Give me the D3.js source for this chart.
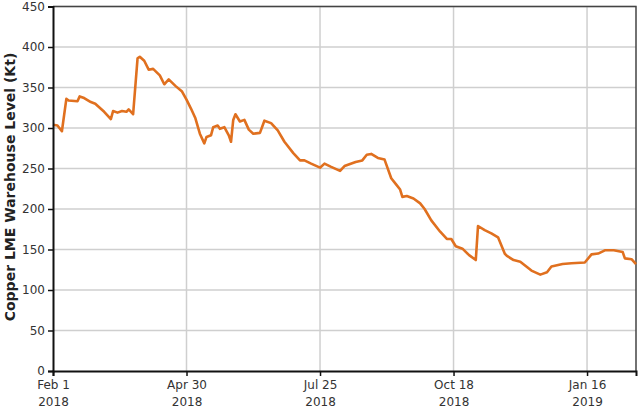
<!DOCTYPE html>
<html><head><meta charset="utf-8">
<script src="https://cdn.jsdelivr.net/npm/d3@7"></script>
<style>
html,body{margin:0;padding:0;background:#fff;}
svg{display:block;font-family:"DejaVu Sans",Verdana,sans-serif;}
</style></head>
<body><svg id="chart" width="640" height="408"></svg>
<script>
// trading-day index and warehouse level (Kt)
const dayIndex = [0,2,4,6,7,11,12,14,17,19,23,26,27,29,31,33,34,36,38,39,41,43,45,48,50,52,55,58,60,62,64,66,68,69,71,72,74,75,77,79,80,81,82,84,86,88,90,93,95,98,101,104,108,111,113,116,120,122,125,129,131,136,139,141,143,146,149,152,154,156,157,159,162,165,167,170,174,177,179,181,184,187,190,191,194,197,200,203,204,207,210,215,219,222,224,229,233,239,242,245,248,252,256,257,260,262];
const level    = [304,303,296,336,334,333,339,337,332,330,320,311,321,319,321,320,323,317,386,388,383,372,373,365,354,360,352,345,335,324,312,293,281,289,291,301,303,299,301,291,283,310,317,308,310,298,293,294,309,306,297,283,269,260,260,256,251,256,252,247,253,258,260,267,268,263,261,238,231,224,215,216,213,207,200,186,172,163,163,154,151,143,137,179,174,170,165,145,142,137,135,124,119,122,129,132,133,134,144,145,149,149,147,139,138,132];
const xTickIndex = [0,60,120,180,240];
const xTickLabels = [["Feb 1","2018"],["Apr 30","2018"],["Jul 25","2018"],["Oct 18","2018"],["Jan 16","2019"]];
const yTicks = [0,50,100,150,200,250,300,350,400,450];
const yTitle = "Copper LME Warehouse Level (Kt)";

const svg = d3.select("#chart");
const m = {l:53, r:4, t:6.5, b:37};
const W = 640, H = 408;
const x = d3.scaleLinear().domain([0,262]).range([m.l, W-m.r]);
const y = d3.scaleLinear().domain([0,450]).range([H-m.b, m.t]);

// grid
svg.append("g").selectAll("line").data(yTicks.slice(1)).join("line")
  .attr("x1", m.l).attr("x2", W-m.r).attr("y1", d=>y(d)).attr("y2", d=>y(d))
  .attr("stroke","#cfcfcf").attr("stroke-width",1.5);
svg.append("g").selectAll("line").data(xTickIndex.slice(1)).join("line")
  .attr("x1", d=>x(d)).attr("x2", d=>x(d)).attr("y1", m.t).attr("y2", H-m.b)
  .attr("stroke","#cfcfcf").attr("stroke-width",1.5);

// top/right frame
svg.append("path")
  .attr("d", `M${m.l},${m.t}H${W-m.r}V${H-m.b}`)
  .attr("fill","none").attr("stroke","#444").attr("stroke-width",1.5);

// line
const data = dayIndex.map((d,i)=>({i:d, v:level[i]}));
svg.append("path").datum(data)
  .attr("fill","none").attr("stroke","#e0701f").attr("stroke-width",2.6)
  .attr("stroke-linejoin","round")
  .attr("d", d3.line().x(d=>x(d.i)).y(d=>y(d.v)));

// y axis
const ya = svg.append("g").attr("transform",`translate(${m.l},0)`)
  .call(d3.axisLeft(y).tickValues(yTicks).tickSize(5).tickPadding(3));
ya.select(".domain").attr("stroke","#111").attr("stroke-width",2);
ya.selectAll(".tick line").attr("stroke","#111").attr("stroke-width",1.5);
ya.selectAll(".tick text").attr("font-size",12).attr("fill","#333")
  .attr("font-family","DejaVu Sans, Verdana, sans-serif");

// x axis
const xa = svg.append("g").attr("transform",`translate(0,${H-m.b})`)
  .call(d3.axisBottom(x).tickValues(xTickIndex).tickSize(5).tickFormat(""));
xa.select(".domain").attr("stroke","#111").attr("stroke-width",2);
xa.selectAll(".tick line").attr("stroke","#111").attr("stroke-width",1.5);
xa.selectAll(".tick").each(function(d,i){
  const t = d3.select(this).append("text").attr("fill","#333").attr("font-size",12)
    .attr("text-anchor","middle").attr("font-family","DejaVu Sans, Verdana, sans-serif");
  t.append("tspan").attr("x",0).attr("y",18).text(xTickLabels[i][0]);
  t.append("tspan").attr("x",0).attr("y",35).text(xTickLabels[i][1]);
});

// y title
svg.append("text")
  .attr("transform",`translate(15,187) rotate(-90)`)
  .attr("text-anchor","middle").attr("font-size",14).attr("font-weight","bold")
  .attr("fill","#222").text(yTitle);
</script></body></html>
